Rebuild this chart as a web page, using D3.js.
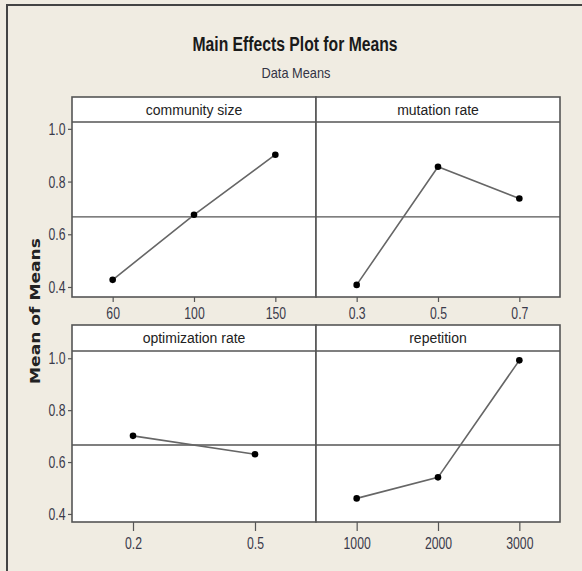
<!DOCTYPE html>
<html>
<head>
<meta charset="utf-8">
<script src="https://cdn.jsdelivr.net/npm/d3@7"></script>
<style>
  body { margin: 0; background: #fff; }
  svg { display: block; }
  .tick text { font-family: "Liberation Sans", sans-serif; font-size: 17px; fill: #3a3a4a; }
  .tick line { stroke: #555; stroke-width: 1.2; }
  .domain { display: none; }
</style>
</head>
<body>
<div id="main"></div>
<script>
// chart data
const factors = ['community size', 'mutation rate', 'optimization rate', 'repetition'];
const levels = [['60', '100', '150'], ['0.3', '0.5', '0.7'], ['0.2', '0.5'], ['1000', '2000', '3000']];
const means = [[0.427, 0.674, 0.902], [0.408, 0.856, 0.736], [0.701, 0.630], [0.460, 0.541, 0.992]];
const grandMean = 0.666;
const yTicks = [0.4, 0.6, 0.8, 1.0];

function main() {
  const width = 582;
  const height = 571;
  const svg = d3.select('#main').append('svg')
    .attr('width', width)
    .attr('height', height);

  // beige background + outer frame
  svg.append('rect')
    .attr('width', width).attr('height', height)
    .attr('fill', '#f0ece2');
  svg.append('path')
    .attr('d', `M7,${height} V5 H${width}`)
    .attr('fill', 'none')
    .attr('stroke', '#444')
    .attr('stroke-width', 2);

  // titles (condensed look via textLength)
  svg.append('text')
    .attr('x', 295).attr('y', 51)
    .attr('text-anchor', 'middle')
    .style('font-family', '"Liberation Sans", sans-serif')
    .style('font-weight', 'bold')
    .style('font-size', '20px')
    .attr('fill', '#1a1a1a')
    .attr('textLength', 205)
    .attr('lengthAdjust', 'spacingAndGlyphs')
    .text('Main Effects Plot for Means');
  svg.append('text')
    .attr('x', 296).attr('y', 78)
    .attr('text-anchor', 'middle')
    .style('font-family', '"Liberation Sans", sans-serif')
    .style('font-size', '15px')
    .attr('fill', '#333344')
    .attr('textLength', 69)
    .attr('lengthAdjust', 'spacingAndGlyphs')
    .text('Data Means');

  // y axis title
  svg.append('text')
    .attr('transform', 'translate(40,311) rotate(-90)')
    .attr('text-anchor', 'middle')
    .style('font-family', '"DejaVu Sans", sans-serif')
    .style('font-weight', 'bold')
    .style('font-size', '14px')
    .attr('fill', '#222')
    .attr('textLength', 146)
    .attr('lengthAdjust', 'spacingAndGlyphs')
    .text('Mean of Means');

  // panel grid layout
  const left = 72;
  const cellW = 244;
  const rows = [
    { top: 97, head: 122, bottom: 297, domain: [0.362, 1.026], tick: 5, pad: 5 },
    { top: 325, head: 351, bottom: 522, domain: [0.369, 1.028], tick: 9, pad: 6 }
  ];

  factors.forEach((name, i) => {
    const r = rows[Math.floor(i / 2)];
    const col = i % 2;
    const x0 = left + col * cellW;
    const g = svg.append('g');

    const x = d3.scalePoint()
      .domain(levels[i])
      .range([x0, x0 + cellW])
      .padding(0.5);
    const y = d3.scaleLinear()
      .domain(r.domain)
      .range([r.bottom, r.head]);

    // panel background
    g.append('rect')
      .attr('x', x0).attr('y', r.top)
      .attr('width', cellW).attr('height', r.bottom - r.top)
      .attr('fill', '#fff');

    // grand mean reference line
    g.append('line')
      .attr('x1', x0).attr('x2', x0 + cellW)
      .attr('y1', y(grandMean)).attr('y2', y(grandMean))
      .attr('stroke', '#555')
      .attr('stroke-width', 1.4);

    // header strip
    g.append('line')
      .attr('x1', x0).attr('x2', x0 + cellW)
      .attr('y1', r.head).attr('y2', r.head)
      .attr('stroke', '#555')
      .attr('stroke-width', 1.4);
    g.append('text')
      .attr('x', x0 + cellW / 2)
      .attr('y', (r.top + r.head) / 2 + 5)
      .attr('text-anchor', 'middle')
      .style('font-family', '"Liberation Sans", sans-serif')
      .style('font-size', '14px')
      .attr('fill', '#222')
      .text(name);

    // means line + points
    const pts = levels[i].map((lv, k) => [x(lv), y(means[i][k])]);
    g.append('path')
      .attr('d', d3.line()(pts))
      .attr('fill', 'none')
      .attr('stroke', '#666')
      .attr('stroke-width', 1.6);
    g.selectAll('circle')
      .data(pts)
      .enter()
      .append('circle')
      .attr('cx', d => d[0])
      .attr('cy', d => d[1])
      .attr('r', 3.3)
      .attr('fill', '#000');

    // x axis
    const xa = g.append('g')
      .attr('transform', `translate(0,${r.bottom})`)
      .call(d3.axisBottom(x).tickSize(r.tick).tickPadding(r.pad));
    xa.selectAll('.tick text').attr('transform', 'scale(0.72,1)');

    // y axis only on left column
    if (col === 0) {
      const ya = g.append('g')
        .attr('transform', `translate(${x0},0)`)
        .call(d3.axisLeft(y).tickValues(yTicks).tickFormat(d3.format('.1f')).tickSize(4).tickPadding(5));
      ya.selectAll('.tick text').attr('transform', 'scale(0.72,1)');
    }

    // panel border
    g.append('rect')
      .attr('x', x0).attr('y', r.top)
      .attr('width', cellW).attr('height', r.bottom - r.top)
      .attr('fill', 'none')
      .attr('stroke', '#555')
      .attr('stroke-width', 1.6);
  });
}
document.addEventListener('DOMContentLoaded', main);
</script>
</body>
</html>
